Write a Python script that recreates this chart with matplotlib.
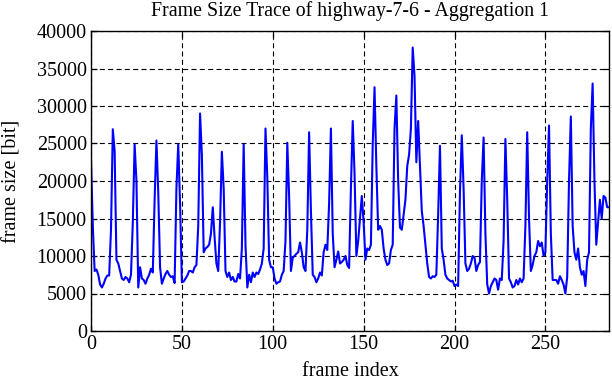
import numpy as np
import matplotlib
matplotlib.use('Agg')
import matplotlib.pyplot as plt

# frame sizes in bit (one value per frame)
frame_size = [
    22800, 14000, 8000, 8200, 7500, 6200, 5800, 6300, 7000, 7400,
    7400, 13500, 26900, 24000, 9500, 9000, 8000, 7000, 6800, 7200,
    7000, 6500, 7500, 14500, 24900, 20000, 5800, 8500, 7000, 6800,
    6300, 7000, 7500, 8300, 7800, 17500, 25400, 18500, 8500, 6300,
    7000, 7600, 8000, 7500, 7200, 7300, 6400, 19000, 24900, 17000,
    6500, 6600, 7000, 7400, 8000, 8000, 7800, 8500, 8800, 14000,
    29000, 23500, 10500, 11000, 11200, 11500, 13000, 16500, 12500, 9000,
    8000, 14500, 23900, 19000, 8000, 7200, 7800, 6800, 7200, 6600,
    6600, 7600, 7000, 11000, 24900, 11500, 5800, 7500, 6500, 7800,
    7200, 7800, 7600, 8200, 9000, 11000, 27000, 20500, 9500, 8500,
    8500, 7000, 6300, 6500, 6600, 7500, 8000, 12000, 25100, 18000,
    8000, 9800, 10000, 10300, 10500, 11800, 10500, 8500, 8000, 13500,
    26500, 16000, 7500, 7200, 6500, 7000, 7800, 7400, 10500, 11500,
    10800, 17000, 27000, 13000, 8500, 9500, 10600, 9000, 9200, 9500,
    10000, 8800, 8400, 19000, 28000, 21000, 10000, 12000, 15000, 18000,
    14500, 9500, 11000, 10800, 11500, 24900, 32500, 22000, 13500, 14000,
    13500, 11000, 9500, 8800, 9000, 10800, 11500, 27000, 31400, 20000,
    13800, 13500, 15500, 17500, 22000, 23500, 27000, 37800, 34000, 22500,
    28000, 22000, 16000, 14000, 11500, 9000, 7200, 7000, 7300, 7200,
    7500, 15500, 24700, 11000, 9500, 7500, 7000, 6800, 6600, 6700,
    6000, 6200, 6000, 18500, 26100, 19000, 9000, 8000, 8300, 9000,
    10000, 9800, 8000, 8800, 9200, 20000, 25800, 13000, 6200, 5000,
    6000, 6500, 7000, 6800, 5500, 7000, 6800, 12000, 25600, 17500,
    7000, 6500, 5800, 6000, 6800, 6200, 7000, 6500, 7000, 14000,
    26500, 15000, 8000, 8800, 10000, 10500, 12000, 11300, 11800, 10000,
    10500, 20000, 27400, 13000, 6800, 6800, 6800, 6300, 7300, 6800,
    6200, 5000, 7200, 20000, 28600, 14000, 10500, 9500, 11000, 8500,
    7500, 8000, 6000, 9500, 10500, 27000, 33000, 20000, 11500, 14500,
    17500, 15000, 18000, 17800, 16500, 16500,
]
frame_index = np.arange(len(frame_size))

x_ticks = [0, 50, 100, 150, 200, 250]
y_ticks = [0, 5000, 10000, 15000, 20000, 25000, 30000, 35000, 40000]

plt.rcParams['font.family'] = ['Liberation Serif', 'DejaVu Serif']

fig = plt.figure(figsize=(6.12, 3.82), dpi=100)
ax = fig.add_axes([91 / 612, 1 - 331 / 382, (609 - 91) / 612, (331 - 31) / 382])

ax.plot(frame_index, frame_size, color='#0000ff', linewidth=1.5)

ax.set_xlim(0, len(frame_size) - 1)
ax.set_ylim(0, 40000)
ax.set_xticks(x_ticks)
ax.set_yticks(y_ticks)
ax.grid(True, color='black', linestyle=(0, (4.5, 3)), linewidth=0.8)
ax.tick_params(direction='in', length=4, width=0.9, top=True, right=True,
               labelsize=14.5, pad=3)
for s in ax.spines.values():
    s.set_linewidth(1.0)

ax.set_title('Frame Size Trace of highway-7-6 - Aggregation 1', fontsize=14.3, pad=11)
ax.set_xlabel('frame index', fontsize=14.5, labelpad=6)
ax.set_ylabel('frame size [bit]', fontsize=14.5, labelpad=11)

plt.savefig('out.png', dpi=100)
plt.close()
